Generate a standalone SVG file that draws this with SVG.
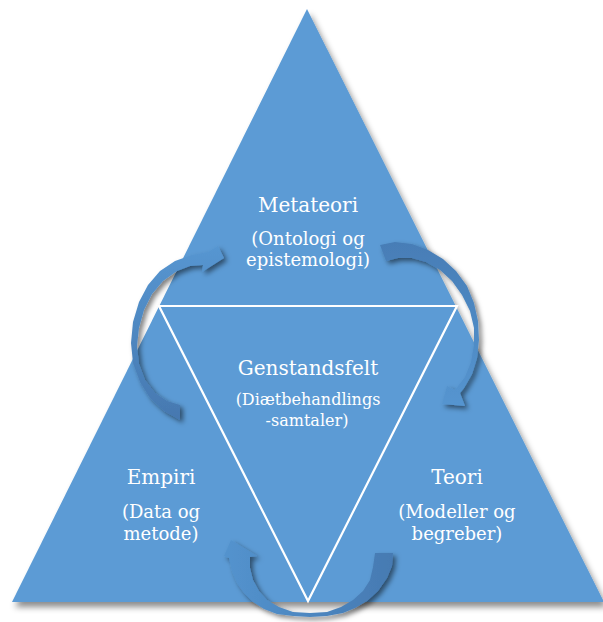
<svg xmlns="http://www.w3.org/2000/svg" width="603" height="622" viewBox="0 0 603 622">
  <defs>
    <filter id="triShadow" x="-10%" y="-10%" width="125%" height="125%">
      <feDropShadow dx="3" dy="5" stdDeviation="3" flood-color="#000" flood-opacity="0.45"/>
    </filter>
    <filter id="arrowShadow" x="-30%" y="-30%" width="160%" height="160%">
      <feDropShadow dx="3" dy="3" stdDeviation="2.5" flood-color="#000" flood-opacity="0.5"/>
    </filter>
    <linearGradient id="gLeft" x1="0" y1="0" x2="0" y2="1">
      <stop offset="0" stop-color="#5696d1"/>
      <stop offset="1" stop-color="#4678b0"/>
    </linearGradient>
    <linearGradient id="gRight" x1="0" y1="0" x2="0" y2="1">
      <stop offset="0" stop-color="#477db6"/>
      <stop offset="1" stop-color="#5595d0"/>
    </linearGradient>
    <linearGradient id="gBottom" x1="1" y1="0" x2="0" y2="0">
      <stop offset="0" stop-color="#467ab2"/>
      <stop offset="1" stop-color="#5393ce"/>
    </linearGradient>
  </defs>
  <style>
    .title { font-family: "DejaVu Serif", "Liberation Serif", serif; font-size: 20px; fill: #ffffff; text-anchor: middle; }
    .sub { font-family: "DejaVu Serif", "Liberation Serif", serif; font-size: 18px; fill: #ffffff; text-anchor: middle; }
    .sub2 { font-family: "DejaVu Serif", "Liberation Serif", serif; font-size: 16px; fill: #ffffff; text-anchor: middle; }
    .arrow { filter: url(#arrowShadow); }
  </style>

  <g id="background">
    <polygon points="307,9 12,602 604,602" fill="#5b9bd5" filter="url(#triShadow)"/>
    <polygon points="159,306 457,306 308,601" fill="none" stroke="#ffffff" stroke-width="2.2" stroke-linejoin="miter"/>
  </g>

  <g id="connectors">
    <path id="arrow-left" class="arrow" fill="url(#gLeft)" d="M180,420 L164,411 L150,398 L140,382 L133,363 L131,343 L133,322 L139,302 L148,285 L160,271 L175,261 L192,255 L208,252 L218,246 L224,258 L202,272 L203,265 L190,266 L177,271 L163,281 L152,294 L144,310 L139,328 L137,346 L139,364 L145,380 L155,393 L167,401 L180,405 Z"/>
    <path id="arrow-right" class="arrow" fill="url(#gRight)" d="M380,245 L395,242 L412,244 L428,250 L443,259 L456,271 L467,286 L474,303 L478,321 L479,340 L477,358 L472,374 L464,388 L460,393 L465,406 L442,404 L447,386 L455,390 L465,377 L471,362 L474,345 L474,328 L470,311 L462,295 L452,281 L440,270 L426,262 L412,258 L398,258 L386,261 Z"/>
    <path id="arrow-bottom" class="arrow" fill="url(#gBottom)" d="M393,553 L392,566 L387,578 L378,591 L367,601 L355,608 L343,613 L327,616 L310,617 L293,616 L277,614 L264,609 L253,602 L244,593 L237,583 L232,571 L229,558 L224,556 L231,540 L257,556 L250,557 L250,568 L253,580 L259,591 L267,600 L279,607 L293,612 L310,613 L327,612 L341,607 L353,600 L363,591 L370,580 L373,567 L375,553 Z"/>
  </g>

  <g id="metateori">
    <text class="title" x="308" y="212">Metateori</text>
    <text class="sub" x="308" y="245">(Ontologi og</text>
    <text class="sub" x="308" y="266">epistemologi)</text>
  </g>

  <g id="genstandsfelt">
    <text class="title" x="308" y="375">Genstandsfelt</text>
    <text class="sub2" x="308" y="405">(Diætbehandlings</text>
    <text class="sub2" x="307" y="426">-samtaler)</text>
  </g>

  <g id="empiri">
    <text class="title" x="161" y="484">Empiri</text>
    <text class="sub" x="161" y="518">(Data og</text>
    <text class="sub" x="161" y="540">metode)</text>
  </g>

  <g id="teori">
    <text class="title" x="457" y="484">Teori</text>
    <text class="sub" x="457" y="518">(Modeller og</text>
    <text class="sub" x="457" y="540">begreber)</text>
  </g>
</svg>
